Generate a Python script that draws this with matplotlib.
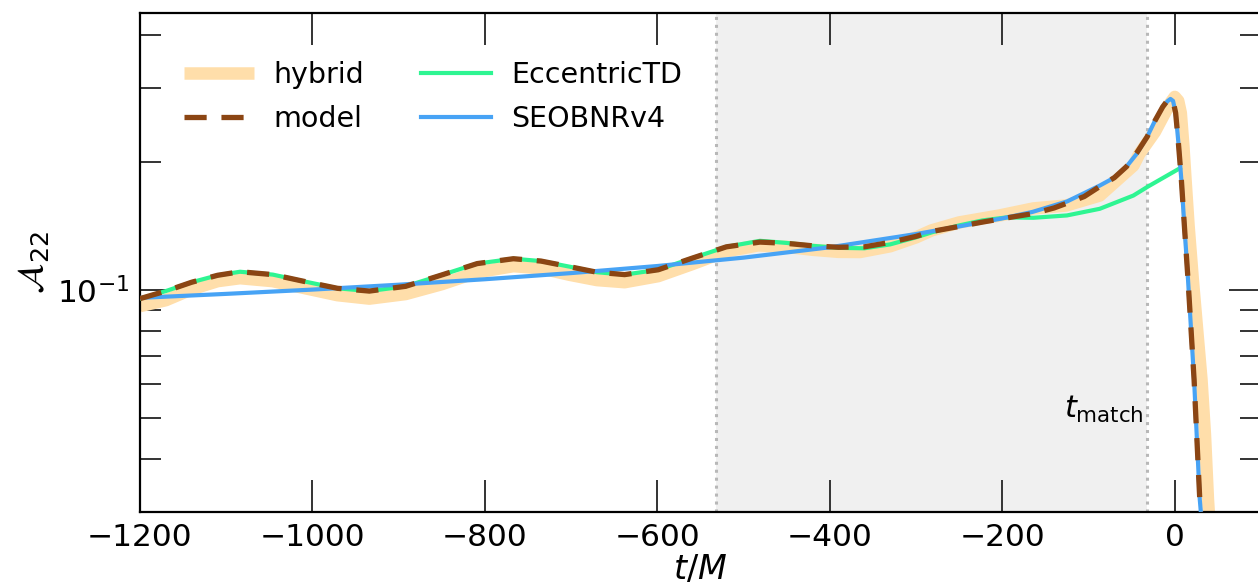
import matplotlib
matplotlib.use("Agg")
import matplotlib.pyplot as plt
from matplotlib.ticker import LogLocator, NullFormatter

# ---------------- data ----------------
t_hybrid = [-1200, -1170, -1140, -1110, -1084, -1046, -1009, -971, -934, -892, -850, -809,
            -767, -735, -702, -670, -638, -599, -560, -520, -483, -450, -420, -390, -365,
            -330, -300, -282, -250, -203, -164, -126, -87, -48, -41, -23, -12, -5, 0, 4, 7,
            10, 12.4, 16, 21, 26, 31, 35, 38.5, 40]
A_hybrid = [0.0917, 0.0947, 0.1005, 0.1050, 0.1067, 0.1050, 0.1011, 0.0973, 0.0955, 0.0979,
            0.1033, 0.1102, 0.1139, 0.1126, 0.1087, 0.1056, 0.1044, 0.1079, 0.1151, 0.1235,
            0.1275, 0.1265, 0.1245, 0.1231, 0.1230, 0.1269, 0.1332, 0.1383, 0.1444, 0.1500,
            0.1558, 0.1583, 0.1671, 0.1966, 0.2097, 0.2362, 0.2603, 0.2763, 0.2854, 0.2793,
            0.2617, 0.2190, 0.1832, 0.1421, 0.1056, 0.0805, 0.0615, 0.0457, 0.0321, 0.0288]

t_model = [-1200, -1170, -1140, -1110, -1084, -1046, -1009, -971, -934, -892, -850, -809,
           -767, -735, -702, -670, -638, -599, -560, -520, -481, -450, -420, -390, -360,
           -330, -300, -281, -250, -223, -195, -165, -140, -125, -105, -87, -70, -56, -44,
           -32, -23, -14, -8, -5, -2, 1, 4, 7.7, 11.5, 15.4, 22.4, 29, 31]
A_model = [0.0955, 0.0995, 0.1044, 0.1084, 0.1105, 0.1088, 0.1048, 0.1010, 0.0995, 0.1021,
           0.1086, 0.1155, 0.1186, 0.1171, 0.1136, 0.1102, 0.1088, 0.1117, 0.1189, 0.1265,
           0.1298, 0.1289, 0.1272, 0.1262, 0.1265, 0.1296, 0.1339, 0.1376, 0.1413, 0.1447,
           0.1480, 0.1514, 0.1562, 0.1603, 0.1662, 0.1755, 0.1842, 0.1955, 0.2108, 0.2299,
           0.2507, 0.2704, 0.2808, 0.2823, 0.2793, 0.2617, 0.2250, 0.1813, 0.1383, 0.1056,
           0.0615, 0.0321, 0.0288]

t_ecc = [-1200, -1170, -1140, -1110, -1084, -1046, -1009, -971, -934, -892, -850, -809,
         -767, -735, -702, -670, -638, -599, -560, -520, -481, -450, -420, -390, -360,
         -330, -300, -281, -250, -223, -195, -164, -125, -87, -48, -31, 5.8]
A_ecc = [0.0955, 0.0995, 0.1044, 0.1084, 0.1105, 0.1088, 0.1048, 0.1010, 0.0995, 0.1021,
         0.1086, 0.1155, 0.1186, 0.1171, 0.1136, 0.1102, 0.1088, 0.1117, 0.1189, 0.1265,
         0.1307, 0.1292, 0.1272, 0.1258, 0.1255, 0.1282, 0.1332, 0.1370, 0.1421, 0.1460,
         0.1484, 0.1481, 0.1500, 0.1555, 0.1671, 0.1755, 0.1937]

t_seob = [-1200, -1100, -1000, -900, -800, -700, -600, -500, -400, -300, -250, -200, -165,
          -125, -87, -70, -56, -44, -32, -23, -14, -8, -5, -2, 1, 4, 7.7, 11.5, 15.4, 22.4,
          29, 31]
A_seob = [0.0959, 0.0980, 0.1003, 0.1030, 0.1061, 0.1097, 0.1140, 0.1193, 0.1262, 0.1356,
          0.1413, 0.1476, 0.1529, 0.1618, 0.1764, 0.1842, 0.1955, 0.2097, 0.2299, 0.2507,
          0.2704, 0.2793, 0.2823, 0.2793, 0.2617, 0.2250, 0.1813, 0.1383, 0.1056, 0.0615,
          0.0321, 0.0288]

t_window = [-532, -32]
xticks = [-1200, -1000, -800, -600, -400, -200, 0]

# ---------------- figure ----------------
fig = plt.figure(figsize=(12.58, 5.88), dpi=100)
ax = fig.add_axes([140 / 1258, 1 - 512 / 588, (1261 - 140) / 1258, (512 - 13) / 588])

ax.axvspan(t_window[0], t_window[1], color="#f0f0f0", zorder=0, lw=0)
for tv in t_window:
    ax.axvline(tv, color="#b8b8b8", ls=(0, (1, 1.6)), lw=2.2, zorder=1)

ax.plot(t_hybrid, A_hybrid, color="#ffdeaa", lw=9, label="hybrid", zorder=2,
        solid_capstyle="butt")
ax.plot(t_ecc, A_ecc, color="#2ef592", lw=3, label="EccentricTD", zorder=3)
ax.plot(t_seob, A_seob, color="#47a3f5", lw=3, label="SEOBNRv4", zorder=4)
ax.plot(t_model, A_model, color="#8b4513", lw=3.8, ls=(0, (4.2, 2.8)), label="model",
        zorder=5)

ax.set_yscale("log")
ax.set_xlim(-1200, 100)
ax.set_ylim(0.03, 0.45)
ax.set_xticks(xticks)
ax.yaxis.set_major_locator(LogLocator(base=10, numticks=10))
ax.yaxis.set_minor_locator(LogLocator(base=10, subs=[2, 3, 4, 5, 6, 7, 8, 9], numticks=10))
ax.yaxis.set_minor_formatter(NullFormatter())

ax.tick_params(which="both", direction="in", top=True, right=True, labelsize=22.5,
               color="#333333")
ax.tick_params(which="major", length=23, width=1.4, pad=8)
ax.tick_params(which="minor", length=15, width=1.4)
for s in ax.spines.values():
    s.set_linewidth(1.6)

ax.set_xlabel("$t/M$", fontsize=24, labelpad=1)
ax.set_ylabel(r"$\mathcal{A}_{22}$", fontsize=26, labelpad=4)

ax.text(-36, 0.0480, r"$t_{\rm match}$", fontsize=22, ha="right", va="bottom")

h, l = ax.get_legend_handles_labels()
order = [l.index(k) for k in ["hybrid", "model", "EccentricTD", "SEOBNRv4"]]
ax.legend([h[i] for i in order], [l[i] for i in order], ncol=2, loc="upper left",
          bbox_to_anchor=(0.029, 0.926), borderaxespad=0, frameon=False, fontsize=20.5,
          handlelength=2.45, handletextpad=0.7, columnspacing=2.0, labelspacing=0.56)

fig.savefig("out.png", dpi=100)
